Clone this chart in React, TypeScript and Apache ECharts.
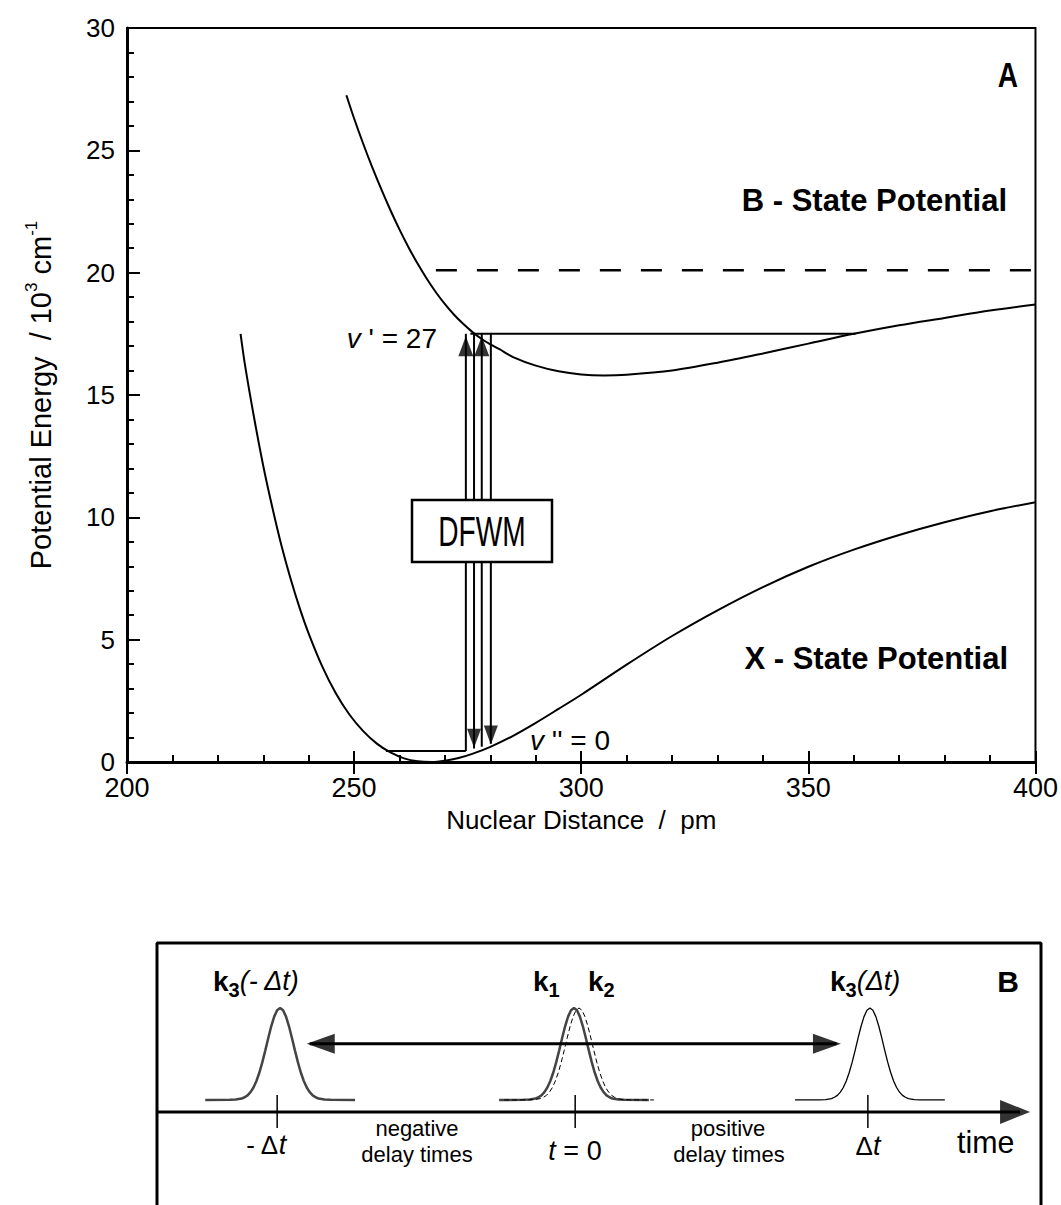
import React, { useEffect, useRef } from 'react';
import * as echarts from 'echarts';

// ---------- Panel A data (nuclear distance in pm, energy in 10^3 cm^-1) ----------
const xStateR = [225, 226, 228, 230, 232, 234, 236, 238, 240, 243, 246, 249, 252, 255, 258, 261, 264, 267, 270, 273, 276, 280, 285, 290, 295, 300, 310, 320, 330, 340, 350, 360, 370, 380, 390, 400];
const xStateE = [17.5, 16.2, 14.05, 12.1, 10.4, 8.85, 7.5, 6.3, 5.25, 3.9, 2.8, 1.93, 1.26, 0.75, 0.39, 0.15, 0.03, 0.0, 0.05, 0.16, 0.33, 0.62, 1.07, 1.6, 2.17, 2.75, 3.98, 5.15, 6.2, 7.15, 7.98, 8.68, 9.28, 9.8, 10.25, 10.62];

const bStateR = [248.3, 250, 252, 254, 256, 258, 260, 262, 264, 266, 268, 270, 272, 274, 276, 278, 280, 282, 285, 290, 295, 300, 305, 310, 320, 330, 340, 350, 360, 370, 380, 390, 400];
const bStateE = [27.25, 26.3, 25.27, 24.3, 23.4, 22.55, 21.76, 21.03, 20.36, 19.75, 19.2, 18.71, 18.28, 17.91, 17.58, 17.3, 17.07, 16.87, 16.55, 16.2, 15.97, 15.84, 15.8, 15.83, 16.0, 16.32, 16.7, 17.1, 17.5, 17.85, 18.15, 18.45, 18.7];

const dissociationLimit = 20.1;
const dissociationStart = 268;
const vUpperLevel = 17.5; // v' = 27
const vUpperRange = [275.6, 360.4];
const vLowerLevel = 0.45; // v'' = 0
const vLowerRange = [257, 274.6];

// transition lines: x position, bottom energy, top energy
const transX = [274.6, 276.4, 278.1, 280.1];
const transBottom = [0.45, 0.55, 0.62, 0.75];
const transTop = [17.5, 17.5, 17.5, 17.5];
const upArrowX = [274.6, 278.1];
const upArrowY = [17.4, 17.4];
const downArrowX = [276.4, 280.1];
const downArrowY = [0.58, 0.72];

const xTicks = { min: 200, max: 400, step: 50 };
const yTicks = { min: 0, max: 30, step: 5 };

// ---------- Panel B data (delay time in units of Δt) ----------
const pulseOffsets = [-0.253, -0.17, -0.15, -0.13, -0.12, -0.11, -0.1, -0.09, -0.08, -0.07, -0.06, -0.05, -0.04, -0.03, -0.02, -0.01, 0, 0.01, 0.02, 0.03, 0.04, 0.05, 0.06, 0.07, 0.08, 0.09, 0.1, 0.11, 0.12, 0.13, 0.15, 0.17, 0.253];
const pulseShape = [0, 0.001, 0.004, 0.015, 0.029, 0.05, 0.085, 0.135, 0.206, 0.298, 0.411, 0.539, 0.674, 0.801, 0.906, 0.976, 1, 0.976, 0.906, 0.801, 0.674, 0.539, 0.411, 0.298, 0.206, 0.135, 0.085, 0.05, 0.029, 0.015, 0.004, 0.001, 0];
const pulseCenters = { k3neg: -1.0, k1: -0.007, k2: 0.01, k3pos: 0.993 };
const pulseBase = 0.401;
const pulseAmp = 0.351;
const tickTimes = [-1.01, -0.003, 0.986];
const tickRange = [0.294, 0.42];
const timeAxisY = 0.355;
const timeRange = [-1.416, 1.571];
const timeAxisEnd = 1.5;
const timeArrowTip = 1.534;
const delayArrowY = 0.615;
const delayArrowRange = [-0.9, 0.88];
const delayArrowTips = [-0.91, 0.895];

const SANS = "'Liberation Sans', Arial, Helvetica, sans-serif";

function lineSeg(pts: number[][], width: number, xi: number, yi: number, extra: any = {}) {
  return {
    type: 'line',
    xAxisIndex: xi,
    yAxisIndex: yi,
    data: pts,
    symbol: 'none',
    silent: true,
    clip: false,
    z: 3,
    lineStyle: { color: '#000', width, ...extra },
  };
}

function heads(xs: number[], ys: number[], rotate: number, size: number[], offset: number[], xi: number, yi: number) {
  return {
    type: 'scatter',
    xAxisIndex: xi,
    yAxisIndex: yi,
    data: xs.map((x, i) => [x, ys[i]]),
    symbol: 'triangle',
    symbolSize: size,
    symbolRotate: rotate,
    symbolOffset: offset,
    itemStyle: { color: '#000' },
    silent: true,
    clip: false,
    z: 5,
  };
}

function pulse(center: number, color: string, width: number, type: any) {
  return lineSeg(
    pulseOffsets.map((o, i) => [center + o, pulseBase + pulseAmp * pulseShape[i]]),
    width, 2, 1, { color, type }
  );
}

function buildOption() {
  const series: any[] = [];
  // Panel A curves
  const xs: any = lineSeg(xStateR.map((r, i) => [r, xStateE[i]]), 2, 0, 0, {});
  xs.smooth = 0.3;
  series.push(xs);
  const bs: any = lineSeg(bStateR.map((r, i) => [r, bStateE[i]]), 2, 0, 0, {});
  bs.smooth = 0.3;
  series.push(bs);
  series.push(lineSeg([[dissociationStart, dissociationLimit], [xTicks.max, dissociationLimit]], 2.5, 0, 0, { type: [21, 20] }));
  series.push(lineSeg([[vUpperRange[0], vUpperLevel], [vUpperRange[1], vUpperLevel]], 2, 0, 0));
  series.push(lineSeg([[vLowerRange[0], vLowerLevel], [vLowerRange[1], vLowerLevel]], 2, 0, 0));
  transX.forEach((x, i) => {
    series.push(lineSeg([[x, transBottom[i]], [x, transTop[i]]], 2, 0, 0));
  });
  series.push(heads(upArrowX, upArrowY, 0, [15, 20], [0, 10], 0, 0));
  series.push(heads(downArrowX, downArrowY, 180, [14, 19], [0, -9.5], 0, 0));

  // Panel B frame (top, left, right; bottom runs off the page)
  series.push(lineSeg([[timeRange[0], 0], [timeRange[0], 1], [timeRange[1], 1], [timeRange[1], 0]], 3, 2, 1));
  // Panel B pulses and arrows
  series.push(pulse(pulseCenters.k3neg, '#444', 2.5, 'solid'));
  series.push(pulse(pulseCenters.k1, '#444', 2.5, 'solid'));
  series.push(pulse(pulseCenters.k2, '#000', 1, [5, 3]));
  series.push(pulse(pulseCenters.k3pos, '#000', 1.3, 'solid'));
  series.push(lineSeg([[timeRange[0], timeAxisY], [timeAxisEnd, timeAxisY]], 3, 2, 1));
  series.push(heads([timeArrowTip], [timeAxisY], -90, [24, 30], [-15, 0], 2, 1));
  tickTimes.forEach((t) => series.push(lineSeg([[t, tickRange[0]], [t, tickRange[1]]], 1.5, 2, 1)));
  series.push(lineSeg([[delayArrowRange[0], delayArrowY], [delayArrowRange[1], delayArrowY]], 3, 2, 1));
  series.push(heads([delayArrowTips[0]], [delayArrowY], 90, [20, 28], [14, 0], 2, 1));
  series.push(heads([delayArrowTips[1]], [delayArrowY], -90, [20, 28], [-14, 0], 2, 1));

  const kRich = {
    b: { fontFamily: SANS, fontWeight: 'bold', fontSize: 28, lineHeight: 38, verticalAlign: 'middle' },
    s: { fontFamily: SANS, fontWeight: 'bold', fontSize: 20, lineHeight: 20, verticalAlign: 'bottom' },
    i: { fontFamily: SANS, fontStyle: 'italic', fontSize: 27, lineHeight: 38, verticalAlign: 'middle' },
  };
  const italic = { i: { fontFamily: SANS, fontStyle: 'italic', fontSize: 27 } };
  const txt = (x: number, y: number, text: string, opts: any = {}, scaleX = 1) => ({
    type: 'text',
    x,
    y,
    scaleX,
    z: 101,
    silent: true,
    style: {
      text,
      fill: '#000',
      fontFamily: SANS,
      fontSize: 26,
      textAlign: 'center',
      textVerticalAlign: 'middle',
      ...opts,
    },
  });

  const graphic: any[] = [
    // Panel A annotations
    txt(1008, 75, 'A', { fontWeight: 'bold', fontSize: 36 }, 0.78),
    txt(1007, 200, 'B - State Potential', { fontWeight: 'bold', fontSize: 31, textAlign: 'right' }),
    txt(1008, 658, 'X - State Potential', { fontWeight: 'bold', fontSize: 31, textAlign: 'right' }),
    txt(437, 338, "{i|v} ' = 27", { fontSize: 28, textAlign: 'right', rich: { i: { fontFamily: SANS, fontStyle: 'italic', fontSize: 28 } } }),
    txt(530, 740, "{i|v} '' = 0", { fontSize: 28, textAlign: 'left', rich: { i: { fontFamily: SANS, fontStyle: 'italic', fontSize: 28 } } }),
    {
      type: 'rect', z: 100, silent: true,
      shape: { x: 412, y: 500, width: 140, height: 62 },
      style: { fill: '#fff', stroke: '#000', lineWidth: 2.5 },
    },
    txt(482, 532, 'DFWM', { fontSize: 42 }, 0.67),
    // Panel B annotations
    txt(213, 981, '{b|k}{s|3}{i|(- Δt)}', { textAlign: 'left', rich: kRich }),
    txt(533, 981, '{b|k}{s|1}', { textAlign: 'left', rich: kRich }),
    txt(588, 981, '{b|k}{s|2}', { textAlign: 'left', rich: kRich }),
    txt(830, 981, '{b|k}{s|3}{i|(Δt)}', { textAlign: 'left', rich: kRich }),
    txt(1008, 981, 'B', { fontWeight: 'bold', fontSize: 30 }),
    txt(266, 1145, '- Δ{i|t}', { rich: italic }),
    txt(417, 1128, 'negative', { fontSize: 22 }),
    txt(417, 1154, 'delay times', { fontSize: 22 }),
    txt(575, 1151, '{i|t} = 0', { fontSize: 27, rich: italic }),
    txt(728, 1128, 'positive', { fontSize: 22 }),
    txt(729, 1154, 'delay times', { fontSize: 22 }),
    txt(868, 1146, 'Δ{i|t}', { rich: italic }),
    txt(957, 1142, 'time', { fontSize: 32, textAlign: 'left' }, 0.95),
  ];

  return {
    animation: false,
    backgroundColor: '#ffffff',
    grid: [
      { left: 127, top: 28, width: 914, height: 734, show: true, borderColor: '#000', borderWidth: 2, backgroundColor: 'transparent' },
      { left: 157, top: 943, width: 884, height: 262, show: false },
    ],
    xAxis: [
      {
        gridIndex: 0, type: 'value', position: 'bottom',
        min: xTicks.min, max: xTicks.max, interval: xTicks.step,
        axisLine: { show: true, onZero: false, lineStyle: { color: '#000', width: 3 } },
        axisTick: { show: true, inside: true, length: 11, lineStyle: { color: '#000', width: 2 } },
        minorTick: { show: true, splitNumber: 5, length: 7, lineStyle: { color: '#000', width: 2 } },
        splitLine: { show: false },
        axisLabel: { color: '#000', fontFamily: SANS, fontSize: 27, lineHeight: 24, margin: 14 },
        name: 'Nuclear Distance  /  pm',
        nameLocation: 'middle',
        nameGap: 45,
        nameTextStyle: { color: '#000', fontFamily: SANS, fontSize: 26, verticalAlign: 'top' },
      },
      {
        gridIndex: 0, type: 'value', position: 'bottom',
        min: xTicks.min, max: xTicks.max, interval: xTicks.step,
        axisLine: { show: false, onZero: false },
        axisTick: { show: true, inside: false, length: 12, lineStyle: { color: '#000', width: 2 } },
        splitLine: { show: false },
        axisLabel: { show: false },
      },
      { gridIndex: 1, type: 'value', min: timeRange[0], max: timeRange[1], show: false },
    ],
    yAxis: [
      {
        gridIndex: 0, type: 'value',
        min: yTicks.min, max: yTicks.max, interval: yTicks.step,
        axisLine: { show: true, onZero: false, lineStyle: { color: '#000', width: 3 } },
        axisTick: { show: true, inside: true, length: 13, lineStyle: { color: '#000', width: 2 } },
        minorTick: { show: true, splitNumber: 5, length: 7, lineStyle: { color: '#000', width: 2 } },
        splitLine: { show: false },
        axisLabel: { color: '#000', fontFamily: SANS, fontSize: 26, lineHeight: 20, margin: 12 },
        name: 'Potential Energy  / 10{sup|3} cm{sup|-1}',
        nameLocation: 'middle',
        nameGap: 68,
        nameTextStyle: {
          color: '#000', fontFamily: SANS, fontSize: 29, lineHeight: 36,
          rich: {
            sup: { fontFamily: SANS, fontSize: 17, lineHeight: 17, verticalAlign: 'top' },
          },
        },
      },
      { gridIndex: 1, type: 'value', min: 0, max: 1, show: false },
    ],
    series,
    graphic,
  };
}

export default function App() {
  const ref = useRef<HTMLDivElement>(null);
  useEffect(() => {
    document.body.style.margin = '0';
    const chart = echarts.init(ref.current as HTMLDivElement, undefined, { renderer: 'svg' });
    chart.setOption(buildOption() as any);
    return () => chart.dispose();
  }, []);
  return <div ref={ref} style={{ width: 1061, height: 1205 }} />;
}
